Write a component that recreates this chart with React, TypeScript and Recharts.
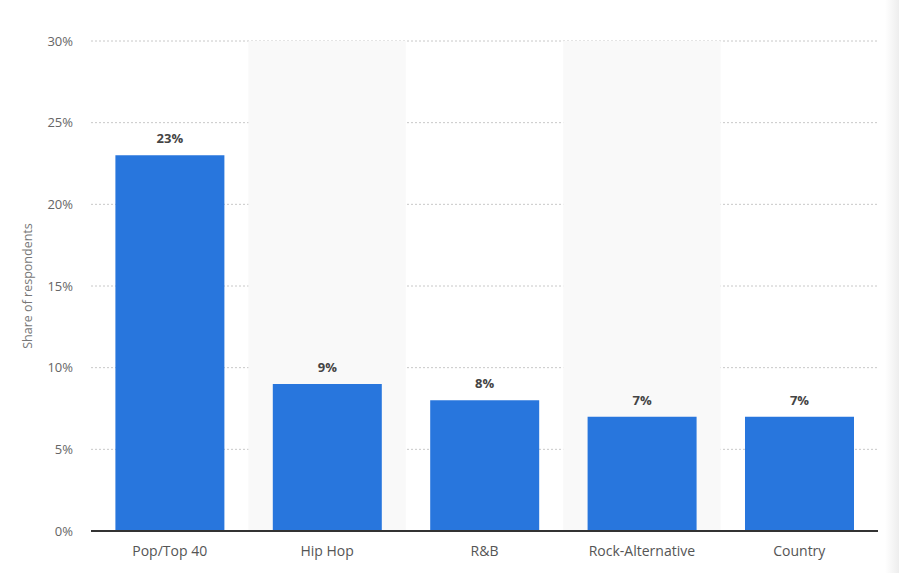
import { BarChart, Bar, XAxis, YAxis, CartesianGrid, ReferenceArea, LabelList, Label } from 'recharts';

const genres = ['Pop/Top 40', 'Hip Hop', 'R&B', 'Rock-Alternative', 'Country'];
const shares = [23, 9, 8, 7, 7];
const yTicks = [0, 5, 10, 15, 20, 25, 30];
const shadedGenres = ['Hip Hop', 'Rock-Alternative'];

const data = genres.map((genre, i) => ({ genre, share: shares[i] }));

const font = "'Open Sans', 'Noto Sans', sans-serif";

const App = () => {
    return (
        <div style={{ position: 'absolute', left: 0, top: 0, width: 899, height: 573, background: '#fff', fontFamily: font }}>
            <BarChart width={899} height={573} data={data} margin={{ top: 41, right: 21, left: 0, bottom: 0 }} barCategoryGap="15.5%">
                {shadedGenres.map((g) => (
                    <ReferenceArea key={g} x1={g} x2={g} y1={0} y2={30} fill="#f9f9f9" fillOpacity={1} stroke="none" ifOverflow="extendDomain" />
                ))}
                <CartesianGrid vertical={false} stroke="#c8c8c8" strokeDasharray="2 2" />
                <XAxis
                    dataKey="genre"
                    height={42}
                    tickLine={false}
                    tickSize={0}
                    tickMargin={15}
                    axisLine={{ stroke: '#333', strokeWidth: 2 }}
                    tick={{ fontFamily: font, fontSize: 14, fill: '#555' }}
                    interval={0}
                />
                <YAxis
                    width={91}
                    domain={[0, 30]}
                    ticks={yTicks}
                    tickFormatter={(v: number) => `${v}%`}
                    tickLine={false}
                    tickSize={0}
                    tickMargin={18}
                    axisLine={false}
                    tick={{ fontFamily: font, fontSize: 13, fill: '#666' }}
                >
                    <Label
                        value="Share of respondents"
                        angle={-90}
                        position="insideLeft"
                        offset={28}
                        style={{ fontFamily: font, fontSize: 12.5, fill: '#777', textAnchor: 'middle' }}
                    />
                </YAxis>
                <Bar dataKey="share" fill="#2876dd" isAnimationActive={false}>
                    <LabelList
                        dataKey="share"
                        position="top"
                        offset={12}
                        formatter={(v: any) => `${v}%`}
                        style={{ fontFamily: font, fontSize: 13, fontWeight: 700, fill: '#444' }}
                    />
                </Bar>
            </BarChart>
            <div style={{ position: 'absolute', right: 0, top: 0, width: 14, height: 573, background: 'linear-gradient(to right, rgba(255,255,255,0), rgba(230,230,230,0.7))' }} />
        </div>
    );
};

export default App;
